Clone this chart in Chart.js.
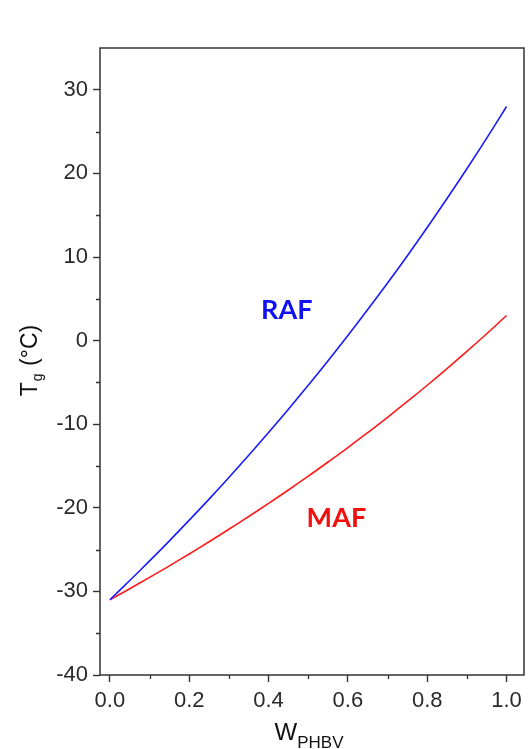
<!DOCTYPE html>
<html>
<head>
<meta charset="utf-8">
<script src="https://cdn.jsdelivr.net/npm/chart.js@4.4.1/dist/chart.umd.min.js"></script>
<style>
  html, body { margin: 0; padding: 0; background: #ffffff; }
  #wrap { width: 528px; height: 749px; }
</style>
</head>
<body>
<div id="wrap"><canvas id="c" width="528" height="749"></canvas></div>
<script>
// PHBV weight fraction
const wPHBV = [0.0, 0.05, 0.1, 0.15, 0.2, 0.25, 0.3, 0.35, 0.4, 0.45, 0.5,
               0.55, 0.6, 0.65, 0.7, 0.75, 0.8, 0.85, 0.9, 0.95, 1.0];
// Glass transition temperature (°C) of the rigid amorphous fraction
const tgRAF = [-31.0, -28.70, -26.35, -23.95, -21.48, -18.96, -16.37, -13.72, -11.00, -8.21, -5.35,
               -2.41, 0.61, 3.71, 6.89, 10.16, 13.53, 16.99, 20.55, 24.22, 28.0];
// Glass transition temperature (°C) of the mobile amorphous fraction
const tgMAF = [-31.0, -29.68, -28.32, -26.94, -25.52, -24.06, -22.57, -21.04, -19.47, -17.87, -16.22,
               -14.52, -12.79, -11.00, -9.17, -7.28, -5.34, -3.34, -1.29, 0.82, 3.0];

const xTickValues = [0.0, 0.2, 0.4, 0.6, 0.8, 1.0];
const xMinorValues = [0.1, 0.3, 0.5, 0.7, 0.9];
const yTickValues = [-40, -30, -20, -10, 0, 10, 20, 30];
const yMinorValues = [-35, -25, -15, -5, 5, 15, 25];

const seriesNames = ['RAF', 'MAF'];

const toPoints = (ys) => wPHBV.map((w, i) => ({ x: w, y: ys[i] }));

const AXIS_COLOR = '#333333';
const LABEL_COLOR = '#2a2a2a';

// frame, minor ticks, curve labels and rich-text axis titles
const decorations = {
  id: 'decorations',
  afterDraw(chart) {
    const { ctx, chartArea: a, scales } = chart;
    const xs = scales.x, ys = scales.y;
    ctx.save();

    // frame around the plot area
    ctx.strokeStyle = AXIS_COLOR;
    ctx.lineWidth = 1.5;
    ctx.strokeRect(a.left, a.top, a.right - a.left, a.bottom - a.top);

    // minor ticks
    ctx.lineWidth = 1.3;
    ctx.beginPath();
    xMinorValues.forEach(v => {
      const px = Math.round(xs.getPixelForValue(v)) + 0.5;
      ctx.moveTo(px, a.bottom);
      ctx.lineTo(px, a.bottom + 4);
    });
    yMinorValues.forEach(v => {
      const py = Math.round(ys.getPixelForValue(v)) + 0.5;
      ctx.moveTo(a.left, py);
      ctx.lineTo(a.left - 4, py);
    });
    ctx.stroke();

    // curve labels
    ctx.textAlign = 'center';
    ctx.textBaseline = 'middle';
    ctx.font = 'bold 27px Lato, "Open Sans", sans-serif';
    ctx.fillStyle = '#1010f0';
    ctx.fillText(seriesNames[0], xs.getPixelForValue(0.446), ys.getPixelForValue(3.6));
    ctx.fillStyle = '#f01010';
    ctx.fillText(seriesNames[1], xs.getPixelForValue(0.571), ys.getPixelForValue(-21.2));

    // x title: W with subscript PHBV
    const cx = (a.left + a.right) / 2 - 3;
    ctx.fillStyle = '#111111';
    ctx.textAlign = 'left';
    ctx.textBaseline = 'alphabetic';
    ctx.font = '24px "Liberation Sans", Arial, sans-serif';
    const wW = ctx.measureText('W').width;
    ctx.font = '17px "Liberation Sans", Arial, sans-serif';
    const wSub = ctx.measureText('PHBV').width;
    const startX = cx - (wW + wSub) / 2;
    ctx.font = '24px "Liberation Sans", Arial, sans-serif';
    ctx.fillText('W', startX, 740);
    ctx.font = '17px "Liberation Sans", Arial, sans-serif';
    ctx.fillText('PHBV', startX + wW, 748);

    // y title: T with subscript g, then (°C), rotated
    const cy = (a.top + a.bottom) / 2;
    ctx.translate(37, cy);
    ctx.rotate(-Math.PI / 2);
    ctx.font = '23px "Liberation Sans", Arial, sans-serif';
    const wT = ctx.measureText('T').width;
    const wRest = ctx.measureText(' (°C)').width;
    ctx.font = '14px "Liberation Sans", Arial, sans-serif';
    const wg = ctx.measureText('g').width;
    const total = wT + wg + wRest;
    let px = -total / 2;
    ctx.font = '23px "Liberation Sans", Arial, sans-serif';
    ctx.fillText('T', px, 0);
    px += wT;
    ctx.font = '14px "Liberation Sans", Arial, sans-serif';
    ctx.fillText('g', px + 1, 5);
    px += wg + 2;
    ctx.font = '23px "Liberation Sans", Arial, sans-serif';
    ctx.fillText(' (°C)', px, 0);

    ctx.restore();
  }
};

new Chart(document.getElementById('c'), {
  type: 'scatter',
  data: {
    datasets: [
      {
        label: seriesNames[0],
        data: toPoints(tgRAF),
        showLine: true,
        borderColor: '#1a1aff',
        borderWidth: 1.6,
        pointRadius: 0,
        tension: 0.4,
        fill: false
      },
      {
        label: seriesNames[1],
        data: toPoints(tgMAF),
        showLine: true,
        borderColor: '#ff1a1a',
        borderWidth: 1.6,
        pointRadius: 0,
        tension: 0.4,
        fill: false
      }
    ]
  },
  options: {
    responsive: false,
    animation: false,
    devicePixelRatio: 1,
    layout: { padding: { top: 48, right: 4, left: 0, bottom: 0 } },
    plugins: {
      legend: { display: false },
      tooltip: { enabled: false }
    },
    scales: {
      x: {
        type: 'linear',
        min: -0.025,
        max: 1.044,
        afterBuildTicks: (s) => { s.ticks = xTickValues.map(v => ({ value: v })); },
        afterFit: (s) => { s.height = 74; },
        border: { display: false },
        grid: {
          drawOnChartArea: false,
          drawTicks: true,
          tickLength: 7,
          tickColor: AXIS_COLOR,
          tickWidth: 1.4
        },
        ticks: {
          padding: 6,
          color: LABEL_COLOR,
          font: { family: '"Liberation Sans", Arial, sans-serif', size: 22 },
          callback: (v) => Number(v).toFixed(1),
          maxRotation: 0,
          autoSkip: false
        }
      },
      y: {
        type: 'linear',
        min: -40,
        max: 35,
        afterBuildTicks: (s) => { s.ticks = yTickValues.map(v => ({ value: v })); },
        afterFit: (s) => { s.width = 100; },
        border: { display: false },
        grid: {
          drawOnChartArea: false,
          drawTicks: true,
          tickLength: 7,
          tickColor: AXIS_COLOR,
          tickWidth: 1.4
        },
        ticks: {
          padding: 5,
          color: LABEL_COLOR,
          font: { family: '"Liberation Sans", Arial, sans-serif', size: 22 },
          callback: (v) => String(v),
          autoSkip: false
        }
      }
    }
  },
  plugins: [decorations]
});
</script>
</body>
</html>
